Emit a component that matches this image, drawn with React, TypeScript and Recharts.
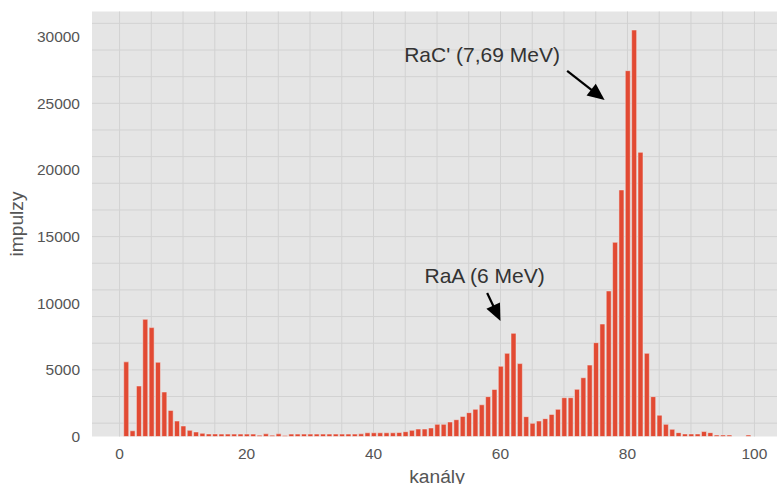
import {
  BarChart,
  Bar,
  XAxis,
  YAxis,
  CartesianGrid,
  ReferenceLine,
  ReferenceDot,
} from "recharts";

// channel numbers (kanály) and counts (impulzy)
const channels = [
  1, 2, 3, 4, 5, 6, 7, 8, 9, 10, 11, 12, 13, 14, 15, 16, 17, 18, 19, 20,
  21, 22, 23, 24, 25, 26, 27, 28, 29, 30, 31, 32, 33, 34, 35, 36, 37, 38, 39, 40,
  41, 42, 43, 44, 45, 46, 47, 48, 49, 50, 51, 52, 53, 54, 55, 56, 57, 58, 59, 60,
  61, 62, 63, 64, 65, 66, 67, 68, 69, 70, 71, 72, 73, 74, 75, 76, 77, 78, 79, 80,
  81, 82, 83, 84, 85, 86, 87, 88, 89, 90, 91, 92, 93, 94, 95, 96, 97, 98, 99,
];

const counts = [
  5600, 430, 3790, 8790, 8170, 5570, 3340, 1960, 1160, 790,
  460, 340, 240, 190, 190, 180, 180, 180, 180, 180,
  180, 100, 200, 100, 200, 80, 180, 180, 180, 180,
  180, 180, 180, 180, 180, 180, 180, 200, 280, 280,
  280, 280, 280, 300, 360, 460, 560, 560, 640, 910,
  910, 1090, 1260, 1510, 1790, 2040, 2380, 2990, 3530, 5270,
  6240, 7740, 5470, 1490, 990, 1160, 1340, 1660, 2040, 2910,
  2910, 3540, 4410, 5360, 7040, 8440, 10920, 14570, 18500, 27450,
  30500, 21320, 6240, 2990, 1600, 910, 540, 290, 190, 190,
  190, 370, 290, 110, 110, 110, 0, 0, 110,
];

const xTicks = [0, 20, 40, 60, 80, 100];
const yTicks = [0, 5000, 10000, 15000, 20000, 25000, 30000];
const xGrid = [0, 5, 10, 15, 20, 25, 30, 35, 40, 45, 50, 55, 60, 65, 70, 75, 80, 85, 90, 95, 100];
const yGrid = [
  0, 1000, 2000, 3000, 4000, 5000, 6000, 7000, 8000, 9000, 10000, 11000, 12000,
  13000, 14000, 15000, 16000, 17000, 18000, 19000, 20000, 21000, 22000, 23000,
  24000, 25000, 26000, 27000, 28000, 29000, 30000, 31000,
];

// annotations: text position, arrow tail and arrow tip in data units
const annotations = [
  { text: "RaC' (7,69 MeV)", tx: 57.1, ty: 28630, from: [70.5, 27430], to: [76.4, 25250] },
  { text: "RaA (6 MeV)", tx: 57.5, ty: 12040, from: [57.9, 10770], to: [60.0, 8670] },
];

const data = channels.map((ch, i) => ({ ch, count: counts[i] }));

const Arrow = (props: any) => {
  const { x1, y1, x2, y2 } = props;
  const dx = x2 - x1;
  const dy = y2 - y1;
  const len = Math.hypot(dx, dy) || 1;
  const ux = dx / len;
  const uy = dy / len;
  const head = 17;
  const half = 7.5;
  const bx = x2 - ux * head;
  const by = y2 - uy * head;
  return (
    <g>
      <line x1={x1} y1={y1} x2={bx + ux * 2} y2={by + uy * 2} stroke="#000" strokeWidth={2.2} />
      <polygon
        points={`${x2},${y2} ${bx - uy * half},${by + ux * half} ${bx + uy * half},${by - ux * half}`}
        fill="#000"
      />
    </g>
  );
};

const YLabel = ({ viewBox }: any) => {
  const x = viewBox.x - 9;
  const y = viewBox.y + viewBox.height / 2;
  return (
    <text x={x} y={y} transform={`rotate(-90 ${x} ${y})`} textAnchor="middle" fill="#555555" fontSize={19.2}>
      impulzy
    </text>
  );
};

const XLabel = ({ viewBox }: any) => (
  <text x={viewBox.x + viewBox.width / 2} y={483} textAnchor="middle" fill="#555555" fontSize={19.2}>
    kanály
  </text>
);

export default function App() {
  return (
    <div
      style={{
        position: "absolute",
        left: 0,
        top: 0,
        width: 777,
        height: 484,
        overflow: "hidden",
        background: "#fff",
        fontFamily: "'Liberation Sans', Arial, sans-serif",
      }}
    >
      <BarChart width={782} height={484} data={data} margin={{ top: 11.5, right: 0, left: 32, bottom: 0 }}>
        <CartesianGrid
          fill="#E5E5E5"
          stroke="#d2d2d2"
          strokeWidth={1}
          horizontalValues={yGrid}
          verticalValues={xGrid}
        />
        <XAxis
          type="number"
          dataKey="ch"
          domain={[-4.34, 104.34]}
          allowDataOverflow
          ticks={xTicks}
          axisLine={false}
          tickLine={false}
          tickMargin={5}
          height={47.5}
          tick={{ fill: "#555555", fontSize: 15.5 }}
          label={<XLabel />}
        />
        <YAxis
          type="number"
          domain={[0, 31890]}
          allowDataOverflow
          ticks={yTicks}
          axisLine={false}
          tickLine={false}
          tickMargin={6}
          width={60}
          tick={{ fill: "#555555", fontSize: 15.5 }}
          label={<YLabel />}
        />
        <Bar
          dataKey="count"
          fill="#E24A33"
          stroke="#EEEEEE"
          strokeWidth={0.5}
          barSize={5}
          isAnimationActive={false}
        />
        {annotations.map((a) => (
          <ReferenceLine
            key={a.text + "-arrow"}
            segment={[
              { x: a.from[0], y: a.from[1] },
              { x: a.to[0], y: a.to[1] },
            ]}
            shape={Arrow}
          />
        ))}
        {annotations.map((a) => (
          <ReferenceDot
            key={a.text}
            x={a.tx}
            y={a.ty}
            r={0}
            fill="none"
            stroke="none"
            label={{ value: a.text, position: "center", fill: "#333333", fontSize: 21 }}
          />
        ))}
      </BarChart>
    </div>
  );
}
